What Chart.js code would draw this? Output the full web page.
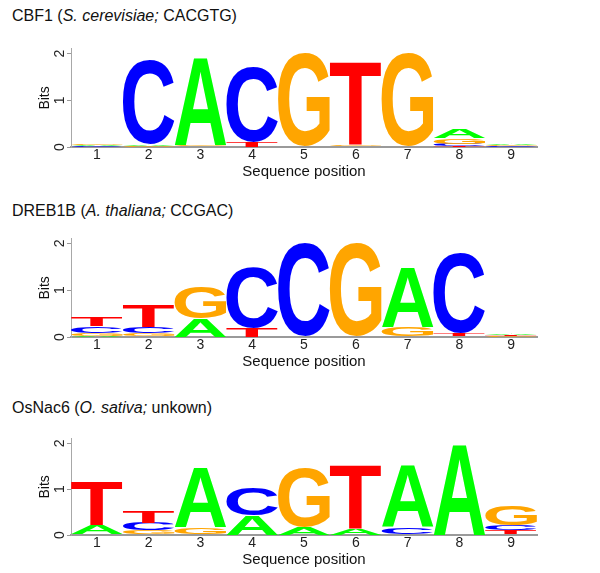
<!DOCTYPE html>
<html>
<head>
<meta charset="utf-8">
<script src="https://cdn.jsdelivr.net/npm/chart.js@4.4.1/dist/chart.umd.min.js"></script>
<style>
body { margin: 0; background: #fff; width: 600px; height: 573px; overflow: hidden; position: relative; font-family: "Liberation Sans", Arial, sans-serif; }
.title { position: absolute; left: 12px; font-size: 16px; line-height: 18px; color: #111; white-space: nowrap; }
.panel { position: absolute; left: 0; width: 600px; height: 135px; }
</style>
</head>
<body>
<div class="title" style="top:7px">CBF1 (<i>S. cerevisiae;</i> CACGTG)</div>
<div class="panel" style="top:46.7px"><canvas id="logo1" width="600" height="135"></canvas></div>
<div class="title" style="top:202px">DREB1B (<i>A. thaliana;</i> CCGAC)</div>
<div class="panel" style="top:236.7px"><canvas id="logo2" width="600" height="135"></canvas></div>
<div class="title" style="top:398.5px">OsNac6 (<i>O. sativa;</i> unkown)</div>
<div class="panel" style="top:434.7px"><canvas id="logo3" width="600" height="135"></canvas></div>
<script>
// sequence positions and nucleotides
var positions = ["1", "2", "3", "4", "5", "6", "7", "8", "9"];
var bases = ["A", "C", "G", "T"];
var baseColors = ["#00ff00", "#0000ff", "#ffa500", "#ff0000"];
var yTicks = [0, 1, 2];

// letter heights in bits
var cbf1A = [0.025, 0.03, 1.89, 0.00, 0.02, 0.02, 0.00, 0.20, 0.025];
var cbf1C = [0.015, 1.81, 0.01, 1.62, 0.00, 0.00, 0.01, 0.04, 0.012];
var cbf1G = [0.035, 0.02, 0.02, 0.00, 1.99, 0.03, 1.99, 0.12, 0.018];
var cbf1T = [0.005, 0.01, 0.01, 0.11, 0.00, 1.78, 0.00, 0.03, 0.005];

var drebA = [0.03, 0.02, 0.40, 0.00, 0.00, 0.00, 1.28, 0.005, 0.03];
var drebC = [0.15, 0.14, 0.00, 1.29, 2.00, 0.00, 0.01, 1.72, 0.005];
var drebG = [0.05, 0.06, 0.68, 0.00, 0.00, 2.00, 0.19, 0.01, 0.015];
var drebT = [0.18, 0.47, 0.00, 0.20, 0.00, 0.00, 0.01, 0.06, 0.025];

var osA = [0.20, 0.02, 1.30, 0.43, 0.17, 0.14, 1.37, 1.99, 0.02];
var osC = [0.02, 0.17, 0.02, 0.60, 0.00, 0.00, 0.15, 0.00, 0.11];
var osG = [0.00, 0.08, 0.15, 0.00, 1.30, 0.00, 0.02, 0.00, 0.43];
var osT = [0.96, 0.25, 0.00, 0.00, 0.00, 1.40, 0.00, 0.00, 0.08];

// draws each bar as a stretched letter filling its box
var letterPlugin = {
    id: "letters",
    afterDatasetsDraw: function (chart) {
        var ctx = chart.ctx;
        ctx.save();
        ctx.font = "bold 100px 'Liberation Sans', Arial, sans-serif";
        ctx.textAlign = "left";
        ctx.textBaseline = "alphabetic";
        chart.data.datasets.forEach(function (ds, di) {
            var meta = chart.getDatasetMeta(di);
            var m = ctx.measureText(ds.label);
            var gw = m.actualBoundingBoxLeft + m.actualBoundingBoxRight;
            var gh = m.actualBoundingBoxAscent + m.actualBoundingBoxDescent;
            meta.data.forEach(function (el) {
                var p = el.getProps(["x", "y", "base", "width"], true);
                var top = Math.min(p.y, p.base);
                var h = Math.abs(p.base - p.y);
                if (h < 0.2) return;
                ctx.save();
                ctx.translate(p.x - p.width / 2, top);
                ctx.scale(p.width / gw, h / gh);
                ctx.fillStyle = ds.letterColor;
                ctx.fillText(ds.label, m.actualBoundingBoxLeft, m.actualBoundingBoxAscent);
                ctx.restore();
            });
        });
        ctx.restore();
    }
};

function stackRanges(cols) {
    // cols: [A, C, G, T]; smallest letter at the bottom of each column
    var out = cols.map(function () { return []; });
    for (var i = 0; i < positions.length; i++) {
        var order = [0, 1, 2, 3].sort(function (a, b) { return cols[a][i] - cols[b][i]; });
        var sum = 0;
        order.forEach(function (k) {
            out[k][i] = [sum, sum + cols[k][i]];
            sum += cols[k][i];
        });
    }
    return out;
}

function makeLogo(id, cols, padTop) {
    var ranges = stackRanges(cols);
    var ctx = document.getElementById(id).getContext("2d");
    return new Chart(ctx, {
        type: "bar",
        data: {
            labels: positions,
            datasets: bases.map(function (b, k) {
                return {
                    label: b,
                    data: ranges[k],
                    letterColor: baseColors[k],
                    backgroundColor: "rgba(0,0,0,0)",
                    borderWidth: 0,
                    grouped: false,
                    barPercentage: 1.0,
                    categoryPercentage: 1.0
                };
            })
        },
        options: {
            responsive: false,
            animation: false,
            events: [],
            devicePixelRatio: 1,
            layout: { autoPadding: false, padding: { top: padTop, right: 63, left: 0, bottom: 0 } },
            plugins: { legend: { display: false }, tooltip: { enabled: false } },
            scales: {
                x: {
                    grid: { display: false, drawTicks: false },
                    border: { display: true, color: "#9a9a9a", width: 2 },
                    ticks: { color: "#222", font: { size: 14, family: "'Liberation Sans', Arial" }, padding: 0 },
                    title: { display: true, text: "Sequence position", color: "#111", font: { size: 15, family: "'Liberation Sans', Arial" }, padding: { top: 0, bottom: 1 } },
                    afterFit: function (s) { s.height = 35; s.paddingLeft = 0; s.paddingRight = 0; }
                },
                y: {
                    min: 0,
                    max: 2.1,
                    grid: { drawOnChartArea: false, drawTicks: true, tickLength: 4, color: "#9a9a9a" },
                    border: { display: true, color: "#a8a8a8", width: 1 },
                    ticks: {
                        stepSize: 1,
                        includeBounds: false,
                        minRotation: 90,
                        maxRotation: 90,
                        crossAlign: "center",
                        padding: 3,
                        color: "#222",
                        font: { size: 14, family: "'Liberation Sans', Arial" },
                        callback: function (v) { return yTicks.indexOf(v) >= 0 ? String(v) : ""; }
                    },
                    title: { display: true, text: "Bits", color: "#111", font: { size: 14, family: "'Liberation Sans', Arial" }, padding: { top: 36.5, bottom: 0 } },
                    afterFit: function (s) { s.width = 71; s.paddingTop = 0; s.paddingBottom = 0; }
                }
            }
        },
        plugins: [letterPlugin]
    });
}

makeLogo("logo1", [cbf1A, cbf1C, cbf1G, cbf1T], 1.9);
makeLogo("logo2", [drebA, drebC, drebG, drebT], 1.6);
makeLogo("logo3", [osA, osC, osG, osT], 3.7);
</script>
</body>
</html>
